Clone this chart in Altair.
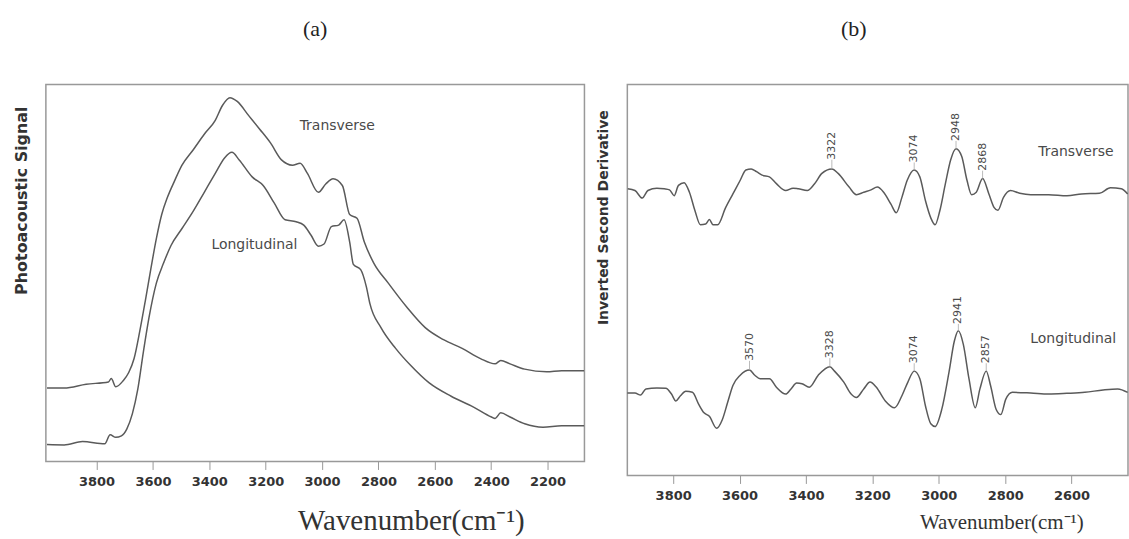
import altair as alt
import pandas as pd

# ---------- Panel (a): photoacoustic spectra ----------
a_trans_wn = [3976, 3915, 3837, 3758, 3748, 3732, 3706, 3686, 3667, 3647, 3627, 3608, 3588, 3569,
              3549, 3523, 3497, 3457, 3418, 3379, 3353, 3327, 3301, 3261, 3222, 3183, 3144, 3105,
              3078, 3052, 3013, 2987, 2961, 2928, 2902, 2876, 2850, 2817, 2765, 2699, 2634, 2569,
              2503, 2438, 2386, 2366, 2333, 2281, 2203, 2150, 2070]
a_trans_val = [19.5, 19.5, 20.5, 21.1, 22.0, 19.8, 21.4, 23.6, 27.3, 34.5, 42.7, 50.9, 59.1, 65.5,
               70.0, 74.5, 78.6, 82.7, 86.8, 90.5, 94.5, 96.5, 95.5, 91.8, 88.2, 84.5, 80.0, 78.6,
               79.1, 76.4, 71.4, 73.6, 75.0, 73.2, 65.5, 64.5, 58.2, 52.7, 47.3, 40.9, 35.5, 32.3,
               30.0, 27.3, 25.9, 26.8, 25.9, 24.5, 23.8, 24.1, 24.1]

a_long_wn = [3976, 3915, 3850, 3771, 3752, 3732, 3712, 3693, 3673, 3654, 3634, 3614, 3588, 3562,
             3536, 3497, 3457, 3418, 3379, 3346, 3320, 3294, 3248, 3209, 3170, 3131, 3092, 3065,
             3039, 3013, 2993, 2967, 2941, 2922, 2902, 2889, 2863, 2843, 2830, 2791, 2739, 2686,
             2621, 2542, 2464, 2399, 2386, 2366, 2333, 2281, 2216, 2150, 2070]
a_long_val = [4.5, 4.4, 5.3, 4.7, 7.1, 6.4, 6.8, 8.6, 12.7, 19.1, 29.1, 38.2, 47.3, 52.7,
              57.3, 61.8, 66.4, 71.4, 76.4, 80.5, 82.0, 80.0, 75.5, 73.2, 68.6, 64.1, 63.6, 62.7,
              60.0, 57.1, 57.7, 62.3, 62.7, 64.1, 58.2, 52.3, 50.9, 46.4, 41.8, 35.5, 30.0, 25.5,
              20.9, 17.3, 14.5, 11.8, 11.4, 12.9, 11.8, 10.0, 9.1, 9.5, 9.5]

a_label_text = ["Transverse", "Longitudinal"]
a_label_wn = [2946, 3240]
a_label_val = [88.9, 57.5]

a_ticks = [3800, 3600, 3400, 3200, 3000, 2800, 2600, 2400, 2200]

# ---------- Panel (b): inverted second derivative ----------
b_trans_wn = [3937, 3915, 3893, 3876, 3849, 3827, 3811, 3797, 3784, 3767, 3751, 3734, 3718, 3702,
              3691, 3680, 3666, 3642, 3620, 3598, 3581, 3565, 3549, 3532, 3510, 3489, 3461, 3439,
              3423, 3396, 3374, 3352, 3322, 3303, 3270, 3248, 3226, 3204, 3185, 3166, 3144, 3128,
              3111, 3095, 3074, 3057, 3040, 3024, 3011, 2997, 2980, 2964, 2948, 2931, 2915, 2901,
              2887, 2868, 2849, 2833, 2822, 2805, 2784, 2756, 2723, 2669, 2614, 2570, 2516, 2483,
              2450, 2431]
b_trans_val = [83.8, 83.3, 81.1, 83.3, 84.0, 83.8, 83.5, 81.8, 84.8, 85.6, 82.8, 77.3, 73.3, 73.5,
               74.8, 73.3, 73.3, 78.3, 82.3, 86.3, 89.3, 89.6, 88.8, 87.8, 87.3, 85.3, 83.3, 84.0,
               83.8, 83.3, 85.3, 88.3, 89.6, 88.3, 84.3, 82.1, 82.8, 83.5, 84.3, 82.8, 79.3, 76.8,
               81.3, 86.3, 89.3, 87.3, 80.3, 75.3, 73.3, 77.3, 85.3, 92.3, 95.5, 93.3, 86.3, 82.1,
               82.8, 86.8, 82.3, 78.3, 77.5, 81.3, 83.3, 82.5, 82.1, 82.1, 81.8, 82.3, 82.5, 84.1,
               83.8, 82.3]

b_long_wn = [3940, 3915, 3898, 3882, 3849, 3822, 3805, 3792, 3778, 3762, 3742, 3723, 3707, 3691,
             3669, 3652, 3636, 3620, 3598, 3570, 3554, 3538, 3510, 3489, 3461, 3445, 3428, 3412,
             3390, 3363, 3328, 3314, 3286, 3264, 3248, 3226, 3207, 3188, 3161, 3133, 3111, 3093,
             3074, 3057, 3040, 3024, 3011, 2991, 2969, 2953, 2941, 2926, 2909, 2890, 2876, 2857,
             2844, 2827, 2813, 2798, 2778, 2723, 2669, 2614, 2560, 2505, 2461, 2431]
b_long_val = [24.1, 24.1, 23.5, 25.3, 25.6, 25.5, 23.8, 21.8, 23.3, 24.6, 24.3, 20.8, 18.3, 17.3,
              13.8, 16.3, 21.3, 26.3, 29.3, 30.8, 29.3, 28.3, 28.3, 25.8, 23.8, 25.3, 27.0, 26.8,
              25.8, 29.3, 31.8, 30.5, 27.3, 23.8, 22.8, 25.3, 27.3, 25.8, 21.8, 19.8, 23.3, 27.3,
              30.5, 28.3, 20.3, 15.1, 14.3, 19.3, 30.3, 39.3, 42.3, 38.3, 28.3, 19.8, 25.3, 30.5,
              26.3, 19.3, 17.8, 22.3, 24.3, 24.1, 23.8, 24.0, 24.3, 25.0, 25.3, 24.3]

peak_text = ["3322", "3074", "2948", "2868", "3570", "3328", "3074", "2941", "2857"]
peak_wn = [3322, 3074, 2948, 2868, 3570, 3328, 3074, 2941, 2857]
peak_top = [89.6, 89.3, 95.5, 86.8, 30.8, 31.8, 30.5, 42.3, 30.5]
peak_label = [92.3, 91.5, 97.8, 89.1, 33.5, 34.3, 32.8, 44.3, 32.8]

b_label_text = ["Transverse", "Longitudinal"]
b_label_wn = [2587, 2595]
b_label_val = [94.6, 39.8]

b_ticks = [3800, 3600, 3400, 3200, 3000, 2800, 2600]

LINE = "#5a5a5a"
TXT = "#4a4a4a"
SANS = "DejaVu Sans"
SERIF = "Liberation Serif"


def spectra_df(wn1, v1, wn2, v2):
    return pd.concat([
        pd.DataFrame({"wn": wn1, "val": v1, "series": "Transverse"}),
        pd.DataFrame({"wn": wn2, "val": v2, "series": "Longitudinal"}),
    ])


# ---------- Panel (a) ----------
xa = alt.X("wn:Q", scale=alt.Scale(domain=[2069, 3980], reverse=True, nice=False, zero=False),
           axis=alt.Axis(values=a_ticks, format="d", title="Wavenumber(cm⁻¹)", grid=False,
                         domain=False, tickColor="#999999", tickSize=8, labelPadding=6,
                         labelFont=SANS, labelFontWeight="bold", labelFontSize=13, labelColor="#333333",
                         titleFont=SERIF, titleFontSize=29, titleFontWeight="normal", titleColor="#333333",
                         titleX=366, titleY=59, titleBaseline="middle", titleAnchor="middle"))
ya = alt.Y("val:Q", scale=alt.Scale(domain=[0, 100], nice=False, zero=False),
           axis=alt.Axis(title="Photoacoustic Signal", labels=False, ticks=False, domain=False, grid=False,
                         titleFont=SANS, titleFontSize=16, titleFontWeight="bold", titleColor="#333333",
                         titlePadding=16, titleY=116, titleAlign="center"))

df_a = spectra_df(a_trans_wn, a_trans_val, a_long_wn, a_long_val)
lines_a = alt.Chart(df_a).mark_line(color=LINE, strokeWidth=1.5, clip=True, interpolate="monotone").encode(
    x=xa, y=ya, detail="series:N", order="idx:Q"
).transform_window(idx="row_number()", groupby=["series"])
labels_a = alt.Chart(pd.DataFrame({"wn": a_label_wn, "val": a_label_val, "t": a_label_text})).mark_text(
    font=SANS, fontSize=14, color=TXT, align="center", baseline="middle"
).encode(x="wn:Q", y="val:Q", text="t:N")

panel_a = alt.layer(lines_a, labels_a).properties(
    width=540, height=378,
    title=alt.TitleParams("(a)", font=SERIF, fontSize=22, fontWeight="normal", color="#222222", offset=44),
)

# ---------- Panel (b) ----------
xb = alt.X("wn:Q", scale=alt.Scale(domain=[2430, 3938], reverse=True, nice=False, zero=False),
           axis=alt.Axis(values=b_ticks, format="d", title="Wavenumber(cm⁻¹)", grid=False,
                         domain=False, tickColor="#999999", tickSize=8, labelPadding=6,
                         labelFont=SANS, labelFontWeight="bold", labelFontSize=13, labelColor="#333333",
                         titleFont=SERIF, titleFontSize=21, titleFontWeight="normal", titleColor="#333333",
                         titleX=375, titleY=47, titleBaseline="middle", titleAnchor="middle"))
yb = alt.Y("val:Q", scale=alt.Scale(domain=[0, 114.3], nice=False, zero=False),
           axis=alt.Axis(title="Inverted Second Derivative", labels=False, ticks=False, domain=False, grid=False,
                         titleFont=SANS, titleFontSize=14, titleFontWeight="bold", titleColor="#333333",
                         titlePadding=17, titleY=133, titleAlign="center"))

df_b = spectra_df(b_trans_wn, b_trans_val, b_long_wn, b_long_val)
lines_b = alt.Chart(df_b).mark_line(color=LINE, strokeWidth=1.5, clip=True, interpolate="monotone").encode(
    x=xb, y=yb, detail="series:N", order="idx:Q"
).transform_window(idx="row_number()", groupby=["series"])

df_peaks = pd.DataFrame({"wn": peak_wn, "top": peak_top, "lab": peak_label, "t": peak_text})
peak_rules = alt.Chart(df_peaks).mark_rule(color="#aaaaaa", strokeWidth=0.8).encode(
    x="wn:Q", y="top:Q", y2="lab:Q")
peak_text_m = alt.Chart(df_peaks).mark_text(
    font=SANS, fontSize=11, color=TXT, angle=270, align="left", baseline="middle"
).encode(x="wn:Q", y="lab:Q", text="t:N")
labels_b = alt.Chart(pd.DataFrame({"wn": b_label_wn, "val": b_label_val, "t": b_label_text})).mark_text(
    font=SANS, fontSize=14, color=TXT, align="center", baseline="middle"
).encode(x="wn:Q", y="val:Q", text="t:N")

panel_b = alt.layer(lines_b, peak_rules, peak_text_m, labels_b).properties(
    width=502, height=392,
    title=alt.TitleParams("(b)", font=SERIF, fontSize=22, fontWeight="normal", color="#222222",
                          offset=44, dx=-24),
)

chart = alt.hconcat(panel_a, panel_b, spacing=43, bounds="flush").configure_view(
    stroke="#999999", strokeWidth=1.5
).properties(
    padding={"left": 13, "top": 16, "right": 0, "bottom": 0},
    background="white",
)

chart.save("out.html", embed_options={"renderer": "svg", "actions": False})
